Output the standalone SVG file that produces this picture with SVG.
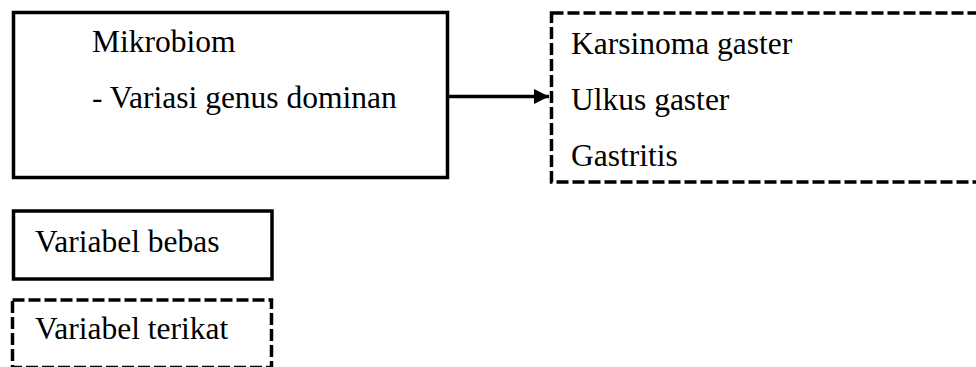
<svg xmlns="http://www.w3.org/2000/svg" width="976" height="367" viewBox="0 0 976 367">
<style>
.box{fill:none;stroke:#000;stroke-width:3.5}
.dash{fill:none;stroke:#000;stroke-width:3.5;stroke-dasharray:12 4}
.t{font-family:'Liberation Serif','Times New Roman',serif;font-size:31.5px;fill:#000}
.conn{stroke:#000;stroke-width:3.5;fill:none}
</style>
<defs>
<marker id="arr" markerUnits="userSpaceOnUse" markerWidth="16" markerHeight="16" refX="15" refY="7.5" orient="auto">
<path d="M0,0 L15,7.5 L0,15 Z" fill="#000"/>
</marker>
</defs>
<rect width="976" height="367" fill="#fff"/>
<g id="mikrobiom">
<rect class="box" x="13.5" y="12.5" width="434" height="165"/>
<text class="t" x="92" y="52">Mikrobiom</text>
<text class="t" x="92" y="107.5">- Variasi genus dominan</text>
</g>
<g id="outcome">
<rect class="dash" x="551.5" y="13" width="460" height="169"/>
<text class="t" x="571" y="53.5">Karsinoma gaster</text>
<text class="t" x="571" y="109.5">Ulkus gaster</text>
<text class="t" x="571" y="165.5">Gastritis</text>
</g>
<g id="legend-bebas">
<rect class="box" x="13.5" y="211" width="258.5" height="68"/>
<text class="t" x="35" y="252">Variabel bebas</text>
</g>
<g id="legend-terikat">
<rect class="dash" x="12.5" y="300" width="259" height="67.5"/>
<text class="t" x="35" y="338.5">Variabel terikat</text>
</g>
<g id="connectors">
<line class="conn" x1="449" y1="96.5" x2="549" y2="96.5" marker-end="url(#arr)"/>
</g>
</svg>
